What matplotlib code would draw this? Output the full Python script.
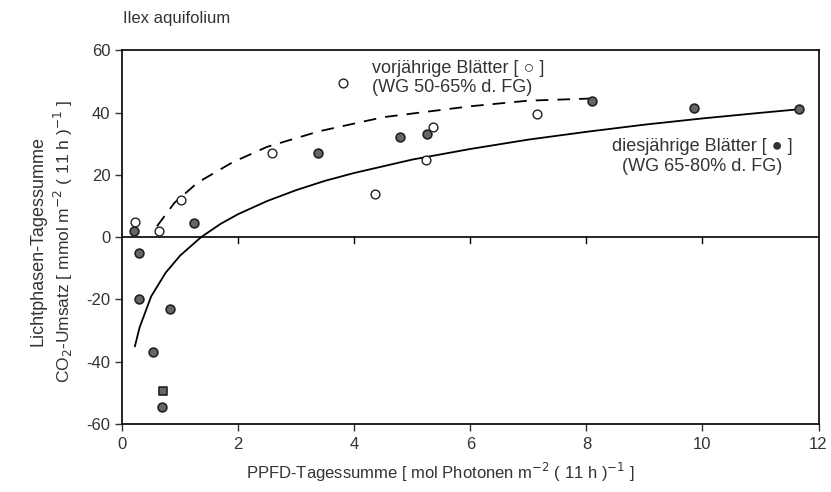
import matplotlib
matplotlib.use("Agg")
import matplotlib.pyplot as plt

plt.rcParams['font.family'] = ['Liberation Sans', 'DejaVu Sans']
plt.rcParams['axes.unicode_minus'] = False

# diesjaehrige Blaetter (filled)
new_x = [0.21, 0.29, 0.29, 0.54, 0.82, 1.24, 0.69, 3.38, 4.78, 5.26, 8.1, 9.86, 11.67]
new_y = [2, -5, -20, -37, -23, 4.5, -54.5, 27, 32, 33, 43.7, 41.5, 41.2]
# single square marker
sq_x = [0.7]
sq_y = [-49.5]

# vorjaehrige Blaetter (open)
old_x = [0.22, 0.64, 1.01, 2.59, 3.8, 4.36, 5.24, 5.36, 7.15]
old_y = [4.8, 2, 11.8, 27, 49.5, 14, 24.9, 35.4, 39.5]

# fitted curves
fit_new_x = [0.22, 0.3, 0.5, 0.75, 1.0, 1.36, 1.7, 2.0, 2.5, 3.0, 3.5, 4.0, 5.0, 6.0, 7.0, 8.0, 9.0, 10.0, 11.0, 11.7]
fit_new_y = [-35, -29, -19, -11.4, -5.9, 0, 4.3, 7.4, 11.6, 15.1, 18.1, 20.6, 24.9, 28.3, 31.3, 33.8, 36.1, 38.1, 39.9, 41.1]
fit_old_x = [0.6, 0.9, 1.3, 1.9, 2.5, 3.4, 4.5, 6.0, 7.0, 8.1]
fit_old_y = [3.5, 11, 17.5, 24, 29, 34, 38.5, 42, 43.8, 44.5]

fig = plt.figure(figsize=(8.31, 4.92), dpi=100)
ax = fig.add_axes([0.147, 0.138, 0.838, 0.760])

ax.plot(fit_new_x, fit_new_y, color='black', lw=1.3)
ax.plot(fit_old_x, fit_old_y, color='black', lw=1.3, dashes=(7, 5))
ax.axhline(0, color='black', lw=1.2)

ax.scatter(old_x, old_y, s=40, facecolors='white', edgecolors='#222222', linewidths=1.0, zorder=3)
ax.scatter(new_x, new_y, s=40, facecolors='#666666', edgecolors='#222222', linewidths=1.2, zorder=3)
ax.scatter(sq_x, sq_y, s=40, marker='s', facecolors='#666666', edgecolors='#222222', linewidths=1.2, zorder=3)

# ticks on the zero line
for t in [2, 4, 6, 8, 10]:
    ax.plot([t, t], [0, -1.8], color='black', lw=1.0)

ax.set_xlim(0, 12)
ax.set_ylim(-60, 60)
ax.set_xticks([0, 2, 4, 6, 8, 10, 12])
ax.set_yticks([-60, -40, -20, 0, 20, 40, 60])
ax.tick_params(direction='out', length=5, width=1, labelsize=12, colors='#333333')
ax.tick_params(axis='x', pad=4)
for s in ax.spines.values():
    s.set_linewidth(1.2)

ax.text(4.3, 54, 'vorjährige Blätter [ ○ ]', fontsize=13, color='#333333', va='center')
ax.text(4.3, 48, '(WG 50-65% d. FG)', fontsize=13, color='#333333', va='center')
ax.text(10.0, 29, 'diesjährige Blätter [ ● ]', fontsize=13, color='#333333', va='center', ha='center')
ax.text(10.0, 22.7, '(WG 65-80% d. FG)', fontsize=13, color='#333333', va='center', ha='center')

fig.text(0.148, 0.963, 'Ilex aquifolium', fontsize=12, color='#333333', va='center')
fig.text(0.046, 0.51, 'Lichtphasen-Tagessumme', fontsize=13, color='#333333', rotation=90, ha='center', va='center')
fig.text(0.076, 0.51, 'CO$_2$-Umsatz [ mmol m$^{-2}$ ( 11 h )$^{-1}$ ]', fontsize=12.5, color='#333333',
         rotation=90, ha='center', va='center')
fig.text(0.53, 0.04, 'PPFD-Tagessumme [ mol Photonen m$^{-2}$ ( 11 h )$^{-1}$ ]', fontsize=12, color='#333333',
         ha='center', va='center')

fig.savefig('out.png', dpi=100)
